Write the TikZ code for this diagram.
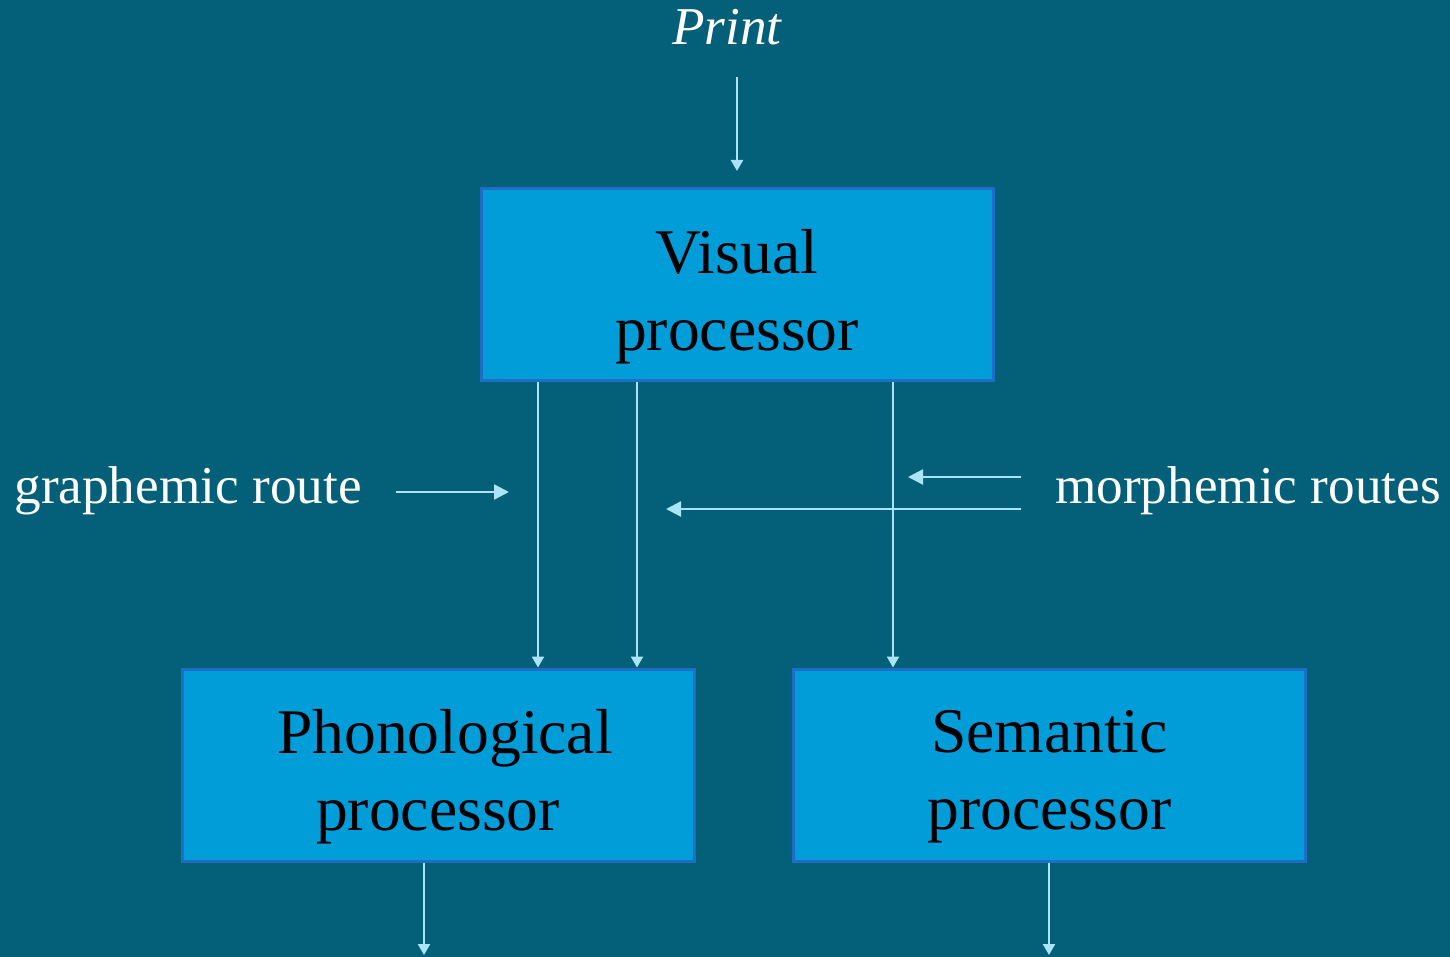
\documentclass[tikz,border=0pt]{standalone}
\usepackage{fontspec}
\setmainfont{Liberation Serif}
\usepackage{tikz}
\usetikzlibrary{arrows.meta}
\definecolor{bgteal}{RGB}{3,96,120}
\definecolor{boxblue}{RGB}{0,157,217}
\definecolor{edgeblue}{RGB}{30,110,200}
\definecolor{arrowcyan}{RGB}{170,228,248}
\tikzset{
    % blaue Prozessor-Kaesten
    procbox/.style={
        draw=edgeblue,
        line width=1.5pt,
        fill=boxblue,
        minimum width=256pt,
        minimum height=96pt,
        inner sep=0pt
    },
    % zweizeiliger Text in den Kaesten
    boxtext/.style={
        align=center,
        text=black,
        inner sep=0pt,
        yshift=-6pt,
        font=\fontsize{31.8}{38.5}\selectfont
    },
    % helle Pfeile zwischen den Kaesten
    flowarrow/.style={
        line width=1.2pt,
        arrowcyan,
        -{Triangle[length=5.5pt, width=6pt]}
    },
    % Pfeile neben den Beschriftungen
    routearrow/.style={
        line width=1.2pt,
        arrowcyan,
        -{Triangle[length=7.5pt, width=7.5pt]}
    },
    routelabel/.style={
        text=white,
        font=\fontsize{26.6}{30}\selectfont
    }
}

\begin{document}
\begin{tikzpicture}[x=0.5pt,y=-0.5pt]
	\fill[bgteal] (0,0) rectangle (1450,957);
	\useasboundingbox (0,0) rectangle (1450,957);
	
	% Kaesten
	\node[procbox,label={[boxtext]center:{Visual\\processor}}] (visual) at (737,284.5) {};
	\node[procbox,label={[boxtext]center:{\hspace*{7pt}Phonological\\processor}}] (phono) at (438,765) {};
	\node[procbox,label={[boxtext]center:{Semantic\\processor}}] (sem) at (1049.5,765) {};
	
	% Beschriftungen
	\node[routelabel,font=\fontsize{26.6}{30}\selectfont\itshape] (print) at (727,27) {Print};
	\node[routelabel] (graph) at (188,491) {graphemic route};
	\node[routelabel] (morph) at (1248,491) {morphemic routes};
	
	\path
	(737,77) coordinate (p1)
	(396,492) coordinate (g1)
	(509,492) coordinate (g2)
	(1021,477) coordinate (m1)
	(908,477) coordinate (m2)
	(1021,509) coordinate (m3)
	(666,509) coordinate (m4)
	(424,955) coordinate (o1)
	(1049,955) coordinate (o2);
	
	% Eingang
	\draw[flowarrow,shorten >=8pt] (p1) -- (visual.north -| p1);
	
	% Verbindungen zwischen den Kaesten
	\draw[flowarrow] (visual.south -| 538,0) -- (phono.north -| 538,0);
	\draw[flowarrow] (visual.south -| 637,0) -- (phono.north -| 637,0);
	\draw[flowarrow] (visual.south -| 893,0) -- (sem.north -| 893,0);
	
	% Routen
	\draw[routearrow] (g1) -- (g2);
	\draw[routearrow] (m1) -- (m2);
	\draw[routearrow] (m3) -- (m4);
	
	% Ausgaenge
	\draw[flowarrow] (phono.south -| o1) -- (o1);
	\draw[flowarrow] (sem.south -| o2) -- (o2);
\end{tikzpicture}
\end{document}
